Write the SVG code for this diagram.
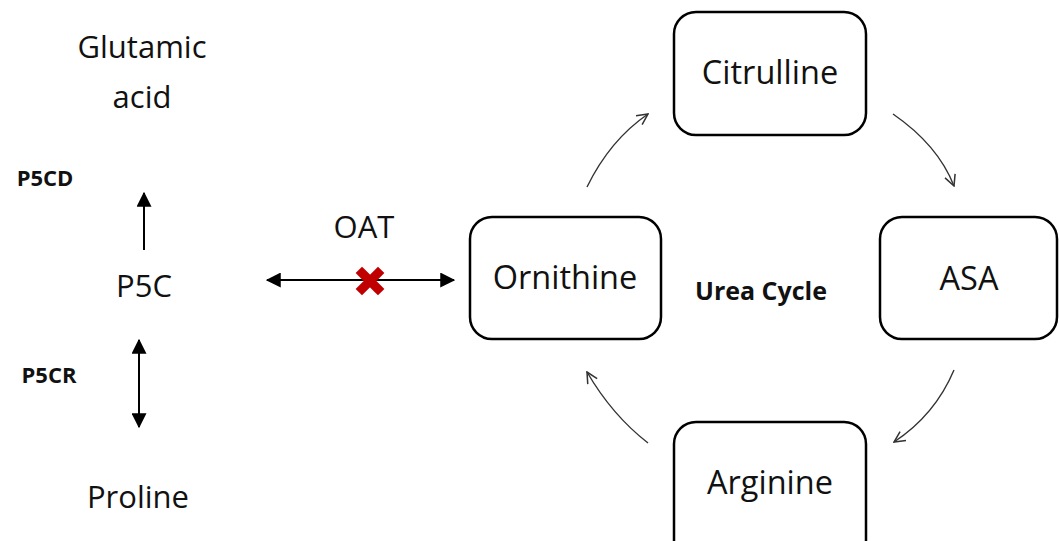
<svg xmlns="http://www.w3.org/2000/svg" width="1059" height="541" viewBox="0 0 1059 541">
  <style>
    .lbl { font-family: "Open Sans", "Liberation Sans", sans-serif; fill: #111; text-anchor: middle; }
    .big { font-size: 31px; }
    .node { font-size: 32.5px; }
    .bold { font-family: "Open Sans", "Liberation Sans", sans-serif; font-weight: bold; font-size: 22px; fill: #111; text-anchor: middle; }
    .box { fill: #fff; stroke: #000; stroke-width: 2.5; }
    .cyc { fill: none; stroke: #333; stroke-width: 1.4; marker-end: url(#open); }
    .dbl { stroke: #000; stroke-width: 2; fill: none; }
  </style>
  <defs>
    <marker id="open" viewBox="0 0 12 12" refX="11" refY="6" markerWidth="13" markerHeight="13" markerUnits="userSpaceOnUse" orient="auto">
      <path d="M1,1 L11,6 L1,11" fill="none" stroke="#333" stroke-width="1.4"/>
    </marker>
    <marker id="solid" viewBox="0 0 12 12" refX="11" refY="6" markerWidth="15" markerHeight="15" markerUnits="userSpaceOnUse" orient="auto-start-reverse">
      <path d="M0,0 L12,6 L0,12 Z" fill="#000"/>
    </marker>
  </defs>
  <rect width="1059" height="541" fill="#fff"/>

  <g id="glutamic-acid">
    <text class="lbl big" x="142" y="58">Glutamic</text>
    <text class="lbl big" x="142" y="108">acid</text>
  </g>
  <g id="p5c">
    <text class="lbl big" x="144" y="297">P5C</text>
  </g>
  <g id="proline">
    <text class="lbl big" x="138" y="508">Proline</text>
  </g>
  <g id="enzymes">
    <text class="bold" x="45" y="186">P5CD</text>
    <text class="bold" x="49" y="383">P5CR</text>
    <text class="lbl big" x="364" y="238">OAT</text>
    <text class="bold" x="761" y="300" style="font-size:25px">Urea Cycle</text>
  </g>

  <g id="ornithine">
    <rect class="box" x="470" y="217" width="191" height="122" rx="22"/>
    <text class="lbl node" x="565" y="289">Ornithine</text>
  </g>
  <g id="citrulline">
    <rect class="box" x="674" y="12" width="192" height="123" rx="22"/>
    <text class="lbl node" x="770" y="84">Citrulline</text>
  </g>
  <g id="asa">
    <rect class="box" x="880" y="217" width="177" height="122" rx="22"/>
    <text class="lbl node" x="969" y="290">ASA</text>
  </g>
  <g id="arginine">
    <rect class="box" x="674" y="422" width="192" height="140" rx="22"/>
    <text class="lbl node" x="770" y="494">Arginine</text>
  </g>

  <g id="connectors">
    <line class="dbl" x1="144" y1="250" x2="144" y2="193" marker-end="url(#solid)"/>
    <line class="dbl" x1="139" y1="340" x2="139" y2="427" marker-start="url(#solid)" marker-end="url(#solid)"/>
    <line class="dbl" x1="267" y1="280" x2="454" y2="280" marker-start="url(#solid)" marker-end="url(#solid)"/>
    <path class="cyc" d="M587,187 Q610,140 648,114"/>
    <path class="cyc" d="M893,114 Q938,145 954,186"/>
    <path class="cyc" d="M954,370 Q935,415 894,442"/>
    <path class="cyc" d="M648,443 Q612,415 587,372"/>
    <g id="blocked" transform="translate(370,281)">
      <path d="M-8,-8 L8,8 M8,-8 L-8,8" stroke="#c00000" stroke-width="9" stroke-linecap="square"/>
    </g>
  </g>
</svg>
